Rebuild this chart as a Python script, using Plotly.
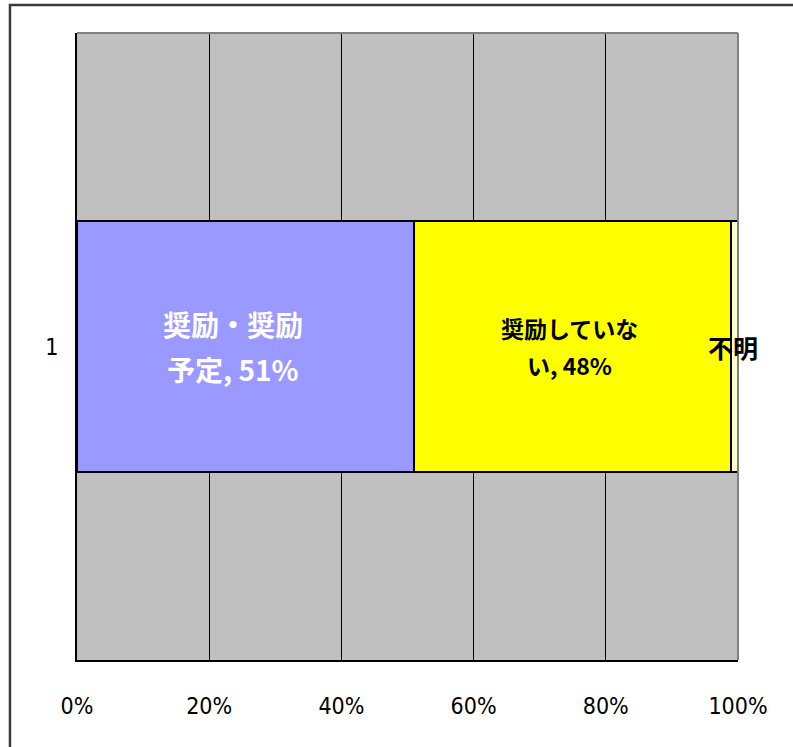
import plotly.graph_objects as go

# ---- data ----
row = ["1"]
categories = ["奨励・奨励予定", "奨励していない", "不明"]
values = [51, 48, 1]
colors = ["#9999FF", "#FFFF00", "#FFFFCC"]
# label lines as wrapped in the original (value inserted from values)
label_lines = [["奨励・奨励", "予定, {v}%"], ["奨励していな", "い, {v}%"], ["不明"]]
label_colors = ["white", "black", "black"]
label_sizes = [28, 23, 25]
line_gap = [45, 37, 0]
label_xshift = [-13, -3, -2]
x_ticks = [0, 20, 40, 60, 80, 100]
x_tick_text = [f"{t}%" for t in x_ticks]

CJK = "Noto Sans CJK JP"
NARROW = "DejaVu Sans Condensed, Liberation Sans Narrow, sans-serif"

fig = go.Figure()
for cat, v, c in zip(categories, values, colors):
    fig.add_trace(go.Bar(
        x=[v], y=row, orientation="h", name=cat,
        marker=dict(color=c, line=dict(color="black", width=2)),
        width=0.4, hoverinfo="x+name",
    ))

annotations = []
start = 0
for lines, v, col, sz, gap, xs in zip(label_lines, values, label_colors, label_sizes,
                                       line_gap, label_xshift):
    mid = start + v / 2
    n = len(lines)
    for i, ln in enumerate(lines):
        off = (i - (n - 1) / 2) * gap
        annotations.append(dict(
            x=mid, y=0, xref="x", yref="y",
            text=ln.format(v=v), showarrow=False,
            font=dict(family=CJK, size=sz, color=col, weight="bold"),
            yshift=-off, xshift=xs, xanchor="center", yanchor="middle",
        ))
    start += v

shapes = [
    dict(type="line", xref="paper", yref="paper", x0=0, x1=1, y0=1, y1=1,
         line=dict(color="#808080", width=2), layer="above"),
    dict(type="line", xref="paper", yref="paper", x0=1, x1=1, y0=0, y1=1,
         line=dict(color="#808080", width=2), layer="above"),
    dict(type="rect", xref="paper", yref="paper", x0=-0.1014, x1=1.3, y0=-0.3, y1=1.0447,
         line=dict(color="#3a3a3a", width=2.5), layer="above"),
]

fig.update_layout(
    width=793, height=747,
    margin=dict(l=77, r=55, t=33, b=87),
    barmode="stack", showlegend=False,
    plot_bgcolor="#C0C0C0", paper_bgcolor="white",
    annotations=annotations, shapes=shapes,
    xaxis=dict(
        range=[0, 100], tickvals=x_ticks, ticktext=x_tick_text,
        showgrid=True, gridcolor="black", gridwidth=1,
        showline=True, linecolor="black", linewidth=2,
        zeroline=False, ticks="", ticklabelstandoff=24,
        tickfont=dict(family=NARROW, size=23, color="black"),
    ),
    yaxis=dict(
        type="category", range=[-0.5, 0.5],
        showgrid=False, showline=True, linecolor="black", linewidth=2,
        zeroline=False, ticks="", ticklabelstandoff=12,
        tickfont=dict(family=NARROW, size=23, color="black"),
    ),
)

fig.write_html("out.html")
